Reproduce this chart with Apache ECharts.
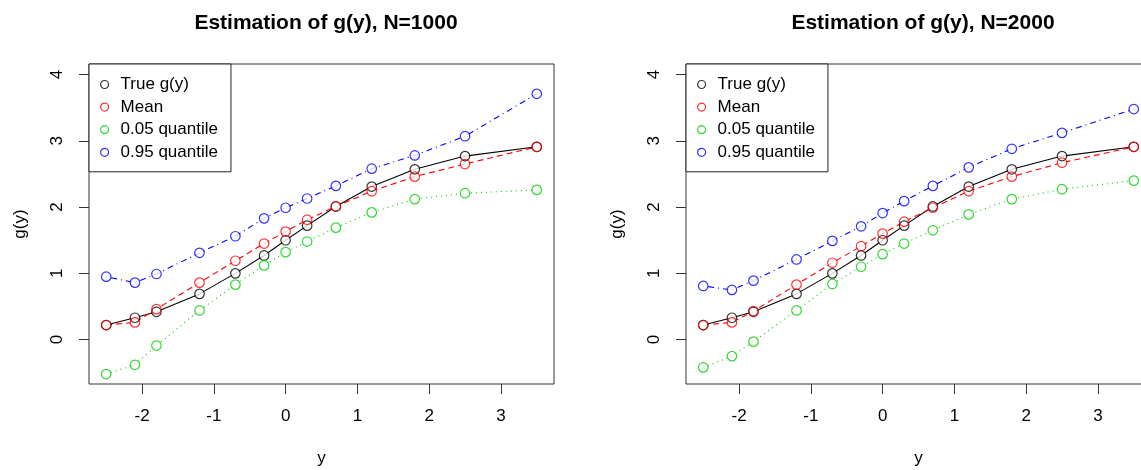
<!DOCTYPE html>
<html>
<head>
<meta charset="utf-8">
<script src="https://cdn.jsdelivr.net/npm/echarts@6/dist/echarts.min.js"></script>
<style>
  html, body { margin: 0; padding: 0; background: #fff; }
  #main { width: 1141px; height: 470px; }
</style>
</head>
<body>
<div id="main"></div>
<script>
// 数据
var xs = [-2.5, -2.1, -1.8, -1.2, -0.7, -0.3, 0, 0.3, 0.7, 1.2, 1.8, 2.5, 3.5];
var trueG = [0.22, 0.33, 0.42, 0.69, 1.00, 1.27, 1.50, 1.72, 2.01, 2.31, 2.57, 2.77, 2.91];

var mean1000 = [0.22, 0.26, 0.46, 0.86, 1.19, 1.45, 1.63, 1.81, 2.01, 2.24, 2.46, 2.65, 2.91];
var q05_1000 = [-0.52, -0.38, -0.09, 0.44, 0.83, 1.12, 1.32, 1.48, 1.69, 1.92, 2.12, 2.21, 2.26];
var q95_1000 = [0.95, 0.86, 0.99, 1.31, 1.56, 1.83, 1.99, 2.13, 2.32, 2.58, 2.78, 3.07, 3.71];

var mean2000 = [0.22, 0.26, 0.43, 0.83, 1.16, 1.41, 1.60, 1.78, 1.99, 2.24, 2.46, 2.67, 2.91];
var q05_2000 = [-0.42, -0.25, -0.03, 0.44, 0.84, 1.10, 1.29, 1.45, 1.65, 1.89, 2.12, 2.27, 2.40];
var q95_2000 = [0.81, 0.75, 0.89, 1.21, 1.49, 1.71, 1.91, 2.09, 2.32, 2.60, 2.88, 3.12, 3.48];

var xTicks = [-2, -1, 0, 1, 2, 3];
var yTicks = [0, 1, 2, 3, 4];
var names = ['True g(y)', 'Mean', '0.05 quantile', '0.95 quantile'];
var titles = ['Estimation of g(y), N=1000', 'Estimation of g(y), N=2000'];

var colors = ['#000000', '#ff0000', '#00cd00', '#0000ff'];
var dashes = ['solid', [6, 4], [1, 4], [1, 4, 6, 4]];
var FONT = 'Liberation Sans, Arial, Helvetica, sans-serif';

function pairs(ys) {
    return xs.map(function (x, i) { return [x, ys[i]]; });
}

// 每个面板的坐标轴
function xAxisOf(gi) {
    return {
        type: 'value', gridIndex: gi, min: -2.74, max: 3.74,
        name: 'y', nameLocation: 'middle', nameGap: 66,
        nameTextStyle: { fontSize: 17, color: '#000', fontFamily: FONT },
        axisLine: { show: false, onZero: false },
        splitLine: { show: false },
        axisTick: { show: true, length: 10, inside: false, customValues: xTicks,
            lineStyle: { color: '#333' } },
        axisLabel: { customValues: xTicks, margin: 24, fontSize: 17, color: '#000', fontFamily: FONT }
    };
}
function yAxisOf(gi) {
    return {
        type: 'value', gridIndex: gi, min: -0.67, max: 4.16,
        name: 'g(y)', nameLocation: 'middle', nameGap: 60, nameRotate: 90,
        nameTextStyle: { fontSize: 17, color: '#000', fontFamily: FONT },
        axisLine: { show: false, onZero: false },
        splitLine: { show: false },
        axisTick: { show: true, length: 10, inside: false, customValues: yTicks,
            lineStyle: { color: '#333' } },
        axisLabel: { customValues: yTicks, rotate: 90, margin: 23, fontSize: 17, color: '#000', fontFamily: FONT }
    };
}

function panelSeries(gi, sets) {
    var out = [];
    sets.forEach(function (ys, k) {
        out.push({
            type: 'line', xAxisIndex: gi, yAxisIndex: gi, data: pairs(ys),
            showSymbol: false, silent: true, z: 2,
            lineStyle: { color: colors[k], width: 1.1, type: dashes[k] }
        });
    });
    // 白色遮罩，模仿 R 的 type="b"
    sets.forEach(function (ys) {
        out.push({
            type: 'scatter', xAxisIndex: gi, yAxisIndex: gi, data: pairs(ys),
            symbol: 'circle', symbolSize: 9, silent: true, z: 3,
            itemStyle: { color: '#fff' }
        });
    });
    sets.forEach(function (ys, k) {
        out.push({
            name: names[k],
            type: 'scatter', xAxisIndex: gi, yAxisIndex: gi, data: pairs(ys),
            symbol: 'circle', symbolSize: 9.5, z: 4,
            itemStyle: { color: 'rgba(0,0,0,0)', borderColor: colors[k], borderWidth: 1.2, opacity: 0.8 }
        });
    });
    return out;
}

function legendOf(left) {
    return {
        left: left, top: 64, orient: 'vertical',
        icon: 'circle', itemWidth: 22, itemHeight: 8, itemGap: 5.6,
        padding: [12, 13, 11, 11],
        borderColor: '#222', borderWidth: 1, borderRadius: 0,
        backgroundColor: '#fff',
        selectedMode: false,
        textStyle: { fontSize: 17, color: '#000', fontFamily: FONT, lineHeight: 16 },
        data: names.map(function (n, k) {
            return { name: n, itemStyle: { color: 'rgba(0,0,0,0)', borderColor: colors[k], borderWidth: 1.2, opacity: 0.8 } };
        })
    };
}

var myChart = echarts.init(document.getElementById('main'), null, { renderer: 'canvas' });

option = {
    animation: false,
    backgroundColor: '#fff',
    textStyle: { fontFamily: FONT },
    title: [
        { text: titles[0], left: 321, top: 8, textAlign: 'center',
          textStyle: { fontSize: 21, fontWeight: 'bold', color: '#000', fontFamily: FONT } },
        { text: titles[1], left: 918, top: 8, textAlign: 'center',
          textStyle: { fontSize: 21, fontWeight: 'bold', color: '#000', fontFamily: FONT } }
    ],
    grid: [
        { left: 89, top: 64, width: 465, height: 320, show: true, borderColor: '#333', borderWidth: 1,
          backgroundColor: 'transparent', containLabel: false, outerBoundsMode: 'none' },
        { left: 686, top: 64, width: 465, height: 320, show: true, borderColor: '#333', borderWidth: 1,
          backgroundColor: 'transparent', containLabel: false, outerBoundsMode: 'none' }
    ],
    legend: [legendOf(89), legendOf(686)],
    xAxis: [xAxisOf(0), xAxisOf(1)],
    yAxis: [yAxisOf(0), yAxisOf(1)],
    series: panelSeries(0, [trueG, mean1000, q05_1000, q95_1000])
        .concat(panelSeries(1, [trueG, mean2000, q05_2000, q95_2000]))
};

myChart.setOption(option);
</script>
</body>
</html>
